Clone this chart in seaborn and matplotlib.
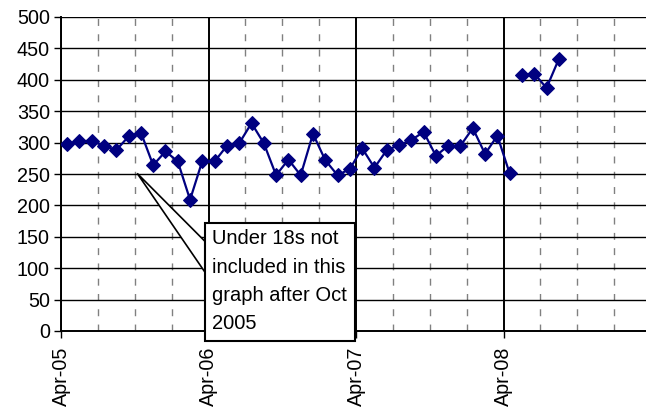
import numpy as np
import pandas as pd
import matplotlib
matplotlib.use('Agg')
import matplotlib.pyplot as plt
import seaborn as sns
from matplotlib.patches import Polygon, Rectangle

# monthly values, Apr-05 .. Apr-08 (first run) and May-08 .. Aug-08 (second run)
values_a = [298, 302, 303, 295, 288, 310, 316, 264, 286, 270, 209, 271,
            270, 295, 299, 331, 299, 248, 273, 248, 314, 272, 248, 258,
            291, 260, 288, 296, 304, 317, 279, 295, 295, 323, 282, 311,
            251]
values_b = [408, 410, 387, 433]
year_labels = ['Apr-05', 'Apr-06', 'Apr-07', 'Apr-08']
y_ticks = [0, 50, 100, 150, 200, 250, 300, 350, 400, 450, 500]
note = 'Under 18s not\nincluded in this\ngraph after Oct\n2005'

sns.set_style('white')
plt.rcParams['font.family'] = ['Liberation Sans', 'DejaVu Sans']

# month index (category axis, points sit between tick marks)
n_a = len(values_a)
df = pd.DataFrame({
    'month': np.arange(n_a + len(values_b)) + 0.5,
    'value': values_a + values_b,
    'segment': ['a'] * n_a + ['b'] * len(values_b),
})

fig = plt.figure(figsize=(6.46, 4.2), dpi=100)
ax = fig.add_axes([61 / 646, 89 / 420, 590 / 646, 314 / 420])

sns.lineplot(data=df, x='month', y='value', units='segment', estimator=None,
             color='#000080', marker='D', markersize=7, linewidth=1.6,
             markeredgecolor='#000080', ax=ax, zorder=3)

ax.set_xlim(0, 48)
ax.set_ylim(0, 500)
ax.set_yticks(y_ticks)
ax.set_xticks([0, 12, 24, 36])
ax.set_xticklabels(year_labels, rotation=90)
ax.set_xticks([3, 6, 9, 15, 18, 21, 27, 30, 33, 39, 42, 45], minor=True)
ax.set_xlabel('')
ax.set_ylabel('')

# grid: solid horizontal, solid yearly verticals, dashed quarterly verticals
for v in y_ticks[1:]:
    ax.axhline(v, color='black', linewidth=1, zorder=1)
ax.grid(False)
ax.xaxis.grid(True, which='major', color='black', linewidth=1.4, zorder=1)
ax.xaxis.grid(True, which='minor', color='#808080', linewidth=1,
              linestyle=(0, (5, 6)), zorder=1)
ax.set_axisbelow(True)

for side in ['left', 'bottom']:
    ax.spines[side].set_color('black')
    ax.spines[side].set_linewidth(1.4)
ax.spines['top'].set_visible(False)
ax.spines['right'].set_visible(False)

ax.tick_params(axis='both', which='major', labelsize=14.2, colors='black',
               direction='out', length=5, width=1)
ax.tick_params(axis='x', which='major', pad=6)
ax.tick_params(axis='y', which='major', pad=3, left=True)
ax.tick_params(axis='x', which='minor', length=0)
ax.tick_params(axis='x', bottom=True)

# callout
wedge = Polygon([(6.2, 251), (11.7, 143), (11.7, 94)], closed=True,
                facecolor='white', edgecolor='black', linewidth=1.2,
                zorder=4, clip_on=False)
ax.add_patch(wedge)
box = Rectangle((11.7, -16), 12.2, 187.5, facecolor='white', edgecolor='black',
                linewidth=1.5, zorder=5, clip_on=False)
ax.add_patch(box)
ax.text(12.25, 162, note, fontsize=14.5, color='black', va='top', ha='left',
        linespacing=1.62, zorder=6, clip_on=False)

fig.savefig('out.png', dpi=100)
